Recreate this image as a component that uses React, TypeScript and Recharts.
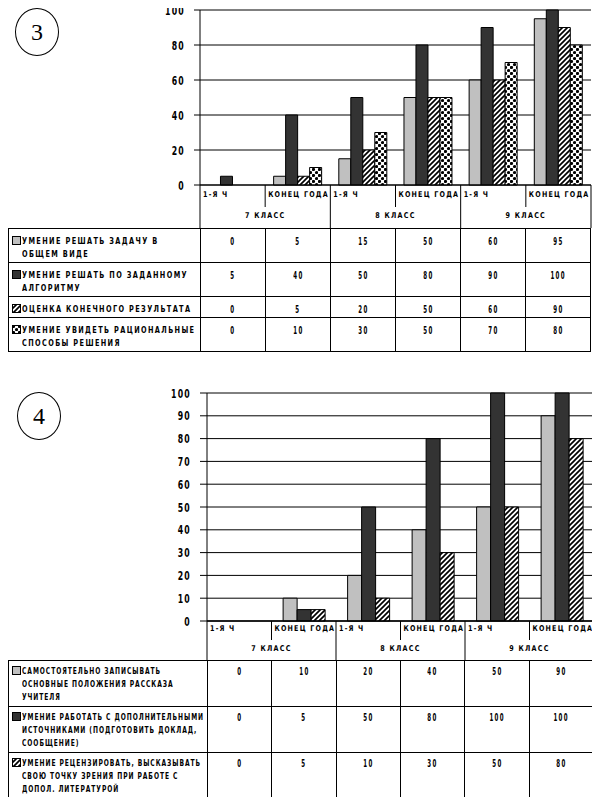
import React from 'react';
import { BarChart, Bar, XAxis, YAxis, CartesianGrid } from 'recharts';

const periods = ['1-я ч', 'конец года', '1-я ч', 'конец года', '1-я ч', 'конец года'];
const grades = ['7 класс', '7 класс', '8 класс', '8 класс', '9 класс', '9 класс'];

// chart 3
const names3 = [
  'умение решать задачу в\nобщем виде',
  'умение решать по заданному\nалгоритму',
  'оценка конечного результата',
  'умение увидеть рациональные\nспособы решения',
];
const solveGeneral = [0, 5, 15, 50, 60, 95];
const solveAlgorithm = [5, 40, 50, 80, 90, 100];
const resultCheck = [0, 5, 20, 50, 60, 90];
const rationalWays = [0, 10, 30, 50, 70, 80];
const ticks3 = [0, 20, 40, 60, 80, 100];

// chart 4
const names4 = [
  'самостоятельно записывать\nосновные положения рассказа\nучителя',
  'умение работать с дополнительными\nисточниками (подготовить доклад,\nсообщение)',
  'умение рецензировать, высказывать\nсвою точку зрения при работе с\nдопол. литературой',
];
const takeNotes = [0, 10, 20, 40, 50, 90];
const extraSources = [0, 5, 50, 80, 100, 100];
const reviewing = [0, 5, 10, 30, 50, 80];
const ticks4 = [0, 10, 20, 30, 40, 50, 60, 70, 80, 90, 100];

const FONT = '"DejaVu Sans", sans-serif';
const fills = ['#c0c0c0', '#333333', 'url(#hatch)', 'url(#dots)'];

type Series = { name: string; values: number[] };

const buildRows = (series: Series[]) =>
  periods.map((p, i) => {
    const row: Record<string, any> = { period: p, grade: grades[i] };
    series.forEach((s, k) => (row['s' + k] = s.values[i]));
    return row;
  });

// narrow, spaced caps like the scanned typeface
const squeezed = (size: number, spacing: number) => ({
  fontSize: size, fontWeight: 700, fontFamily: FONT, letterSpacing: spacing, fill: '#000',
  style: { textTransform: 'uppercase' as const },
});

const PeriodTick = (props: any) => {
  const { x, y, payload, band, row1, row2, base } = props;
  const i = props.index ?? payload.index;
  const left = x - band / 2;
  return (
    <g>
      <line x1={left} x2={left} y1={y} y2={y + (i % 2 === 0 ? row1 + row2 : row1)} stroke="#000" />
      {i === periods.length - 1 && (
        <line x1={x + band / 2} x2={x + band / 2} y1={y} y2={y + row1 + row2} stroke="#000" />
      )}
      <g transform={`translate(${left + 3},${y + base}) scale(0.8,1)`}>
        <text {...squeezed(8, 1.5)}>{payload.value}</text>
      </g>
    </g>
  );
};

const GradeTick = (props: any) => {
  const { x, y, payload, band, base } = props;
  const i = props.index ?? payload.index;
  if (i % 2 !== 0) return <g />;
  return (
    <g transform={`translate(${x + band / 2},${y + base}) scale(0.8,1)`}>
      <text textAnchor="middle" {...squeezed(8, 1.6)}>{payload.value}</text>
    </g>
  );
};

const ValueTick = (props: any) => {
  const { x, y, payload } = props;
  return (
    <g transform={`translate(${x},${y}) scale(0.6,1)`}>
      <text textAnchor="end" dy="0.36em" {...squeezed(13, 2)}>{payload.value}</text>
    </g>
  );
};

type Layout = {
  top: number; height: number; mTop: number; mRight: number; yWidth: number;
  row1: number; row2: number; base1: number; base2: number; tickSize: number;
  gap: string; ticks: number[]; axisW: number;
};

function SkillChart({ series, lay }: { series: Series[]; lay: Layout }) {
  const data = buildRows(series);
  const band = (600 - lay.yWidth - lay.mRight) / periods.length;
  return (
    <div style={{ position: 'absolute', left: 0, top: lay.top }}>
      <BarChart width={600} height={lay.height} data={data} barGap={0} barCategoryGap={lay.gap}
        margin={{ top: lay.mTop, right: lay.mRight, left: 0, bottom: 0 }}>
        <CartesianGrid vertical={false} stroke="#000" />
        <XAxis dataKey="period" height={lay.row1} interval={0} tickSize={0} tickMargin={0} tickLine={false}
          axisLine={{ stroke: '#000', strokeWidth: lay.axisW }}
          tick={(p: any) => <PeriodTick {...p} band={band} row1={lay.row1} row2={lay.row2} base={lay.base1} />} />
        <XAxis xAxisId="grade" dataKey="grade" height={lay.row2} interval={0} tickSize={0} tickMargin={0}
          tickLine={false} axisLine={false}
          tick={(p: any) => <GradeTick {...p} band={band} base={lay.base2} />} />
        <YAxis width={lay.yWidth} domain={[0, 100]} ticks={lay.ticks} interval={0} tickSize={lay.tickSize}
          tickMargin={9} stroke="#000" tick={(p: any) => <ValueTick {...p} />} />
        <YAxis yAxisId="frame" orientation="right" width={0} domain={[0, 100]} tick={false} tickLine={false}
          stroke="#777" />
        {series.map((s, k) => (
          <Bar key={k} dataKey={'s' + k} name={s.name} fill={fills[k]} stroke="#000" strokeWidth={1}
            isAnimationActive={false} />
        ))}
      </BarChart>
    </div>
  );
}

function DataTable({ series, left, top, width, first, lineH, extra, padTop, spacing, scale }: {
  series: Series[]; left: number; top: number; width: number; first: number; lineH: number;
  extra: number; padTop: number; spacing: number; scale: number;
}) {
  const cell: React.CSSProperties = { border: '1px solid #000', padding: 0, verticalAlign: 'top', overflow: 'visible' };
  return (
    <table style={{ position: 'absolute', left, top, width, borderCollapse: 'collapse', tableLayout: 'fixed',
      fontFamily: FONT, fontWeight: 700, color: '#000' }}>
      <colgroup>
        <col style={{ width: first }} />
        {periods.map((_, i) => <col key={i} />)}
      </colgroup>
      <tbody>
        {series.map((s, k) => {
          const lines = s.name.split('\n').length;
          return (
            <tr key={k} style={{ height: lines * lineH + extra }}>
              <td style={{ ...cell, padding: `${padTop}px 0 2px 3px` }}>
                <div style={{ display: 'flex', alignItems: 'flex-start' }}>
                  <svg width={9} height={9} style={{ flex: 'none', marginTop: 2, marginRight: 1 }}>
                    <rect x={0.5} y={0.5} width={8} height={8} fill={fills[k]} stroke="#000" />
                  </svg>
                  <div style={{ whiteSpace: 'pre', fontSize: 9.5, lineHeight: lineH + 'px', letterSpacing: spacing,
                    textTransform: 'uppercase', transform: `scaleX(${scale})`, transformOrigin: 'left top' }}>
                    {s.name}
                  </div>
                </div>
              </td>
              {s.values.map((v, i) => (
                <td key={i} style={{ ...cell, textAlign: 'center', paddingTop: padTop, lineHeight: '12px' }}>
                  <span style={{ display: 'inline-block', fontSize: 10, letterSpacing: 2.5, transform: 'scaleX(0.55)' }}>
                    {v}
                  </span>
                </td>
              ))}
            </tr>
          );
        })}
      </tbody>
    </table>
  );
}

const Badge = ({ label, left, top }: { label: string; left: number; top: number }) => (
  <div style={{ position: 'absolute', left, top, width: 42, height: 46, border: '1px solid #000',
    borderRadius: '50%', display: 'flex', alignItems: 'center', justifyContent: 'center',
    fontFamily: '"Liberation Serif", serif', fontSize: 24 }}>
    {label}
  </div>
);

export default function App() {
  const series3: Series[] = [
    { name: names3[0], values: solveGeneral },
    { name: names3[1], values: solveAlgorithm },
    { name: names3[2], values: resultCheck },
    { name: names3[3], values: rationalWays },
  ];
  const series4: Series[] = [
    { name: names4[0], values: takeNotes },
    { name: names4[1], values: extraSources },
    { name: names4[2], values: reviewing },
  ];
  return (
    <div style={{ position: 'relative', width: 600, height: 805, margin: -8, background: '#fff', overflow: 'hidden' }}>
      <svg width={0} height={0} style={{ position: 'absolute' }}>
        <defs>
          <pattern id="hatch" patternUnits="userSpaceOnUse" width={5} height={5}>
            <rect width={5} height={5} fill="#fff" />
            <path d="M-1,1 l2,-2 M0,5 l5,-5 M4,6 l2,-2" stroke="#000" strokeWidth={1.7} />
          </pattern>
          <pattern id="dots" patternUnits="userSpaceOnUse" width={6} height={6}>
            <rect width={6} height={6} fill="#fff" />
            <circle cx={1.5} cy={1.5} r={1.6} fill="#000" />
            <circle cx={4.5} cy={4.5} r={1.6} fill="#000" />
          </pattern>
        </defs>
      </svg>

      <Badge label="3" left={15} top={8} />
      <SkillChart series={series3} lay={{ top: 0, height: 228, mTop: 10, mRight: 9, yWidth: 200, row1: 22, row2: 21,
        base1: 12, base2: 11, tickSize: 6, gap: '13%', ticks: ticks3, axisW: 1 }} />
      <DataTable series={series3} left={8} top={228} width={583} first={192} lineH={13} extra={8} padTop={5}
        spacing={2} scale={0.69} />

      <Badge label="4" left={17} top={392} />
      <SkillChart series={series4} lay={{ top: 380, height: 280, mTop: 13, mRight: 6, yWidth: 207, row1: 19, row2: 20,
        base1: 10, base2: 11, tickSize: 7, gap: '18%', ticks: ticks4, axisW: 1.5 }} />
      <DataTable series={series4} left={8} top={660} width={586} first={199} lineH={13} extra={7} padTop={3}
        spacing={1.5} scale={0.63} />
    </div>
  );
}
